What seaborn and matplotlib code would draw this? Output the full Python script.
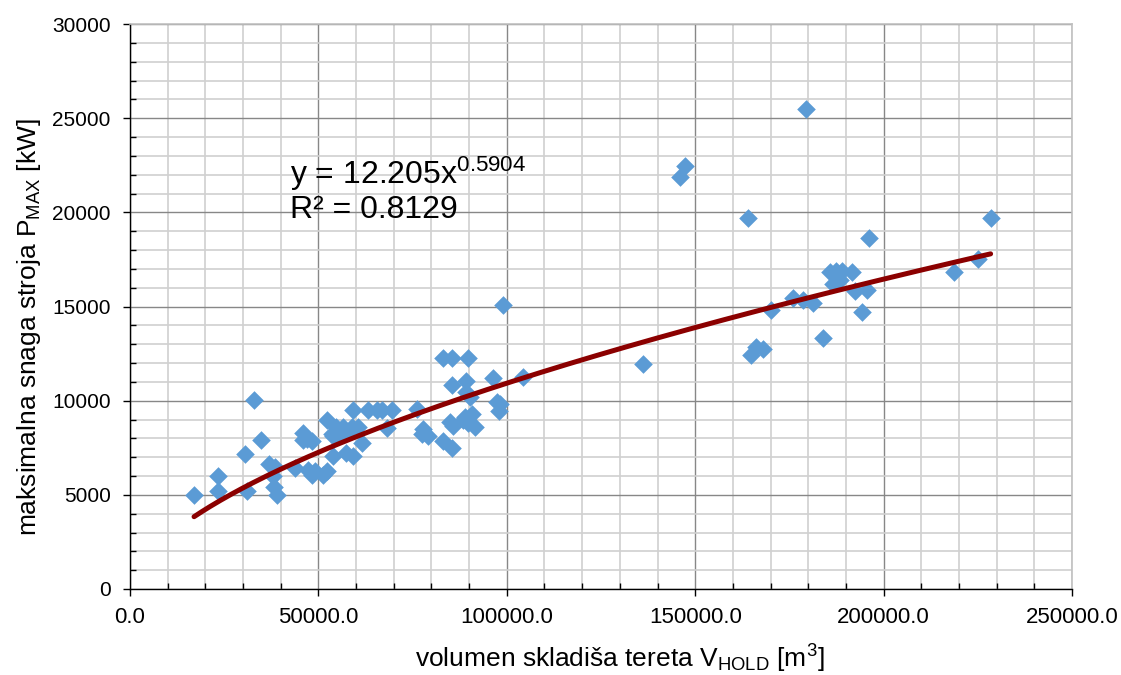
import numpy as np
import pandas as pd
import matplotlib
matplotlib.use("Agg")
import matplotlib.pyplot as plt
from matplotlib.ticker import MultipleLocator, FuncFormatter
import seaborn as sns

# ---- data ----
volume = [
    17000, 23300, 23300, 30500, 31000, 32900, 34800, 36900, 38500, 38000,
    38200, 39000, 43800, 45800, 46000, 46900, 48200, 47300, 48200, 49100,
    51300, 52200, 52200, 53800, 53500, 53900, 55300, 54800, 56600, 57900,
    57300, 59300, 59300, 58800, 60600, 61500, 63250, 65500, 66800, 69500,
    68100, 76100, 77800, 77400, 79200, 83200, 85400, 89800, 85400, 83200,
    85400, 84900, 85800, 89300, 89300, 90200, 88900, 90700, 89800, 91600,
    88500, 96400, 97300, 98200, 97800, 98900, 104400,
    136200, 146000, 147300, 164100, 164700, 166100, 168100, 170000, 176000,
    178700, 181300, 179400, 183800, 185800, 187500, 188900, 191500, 186600,
    187600, 188400, 192400, 195500, 194400, 196200, 218700, 225000, 228400,
]
power = [
    5000, 6000, 5200, 7150, 5200, 10050, 7900, 6650, 6500, 6000,
    5400, 5000, 6450, 8300, 7900, 7950, 7850, 6300, 6050, 6250,
    6050, 6250, 8950, 7050, 8250, 8100, 8100, 8600, 8600, 8350,
    7200, 7050, 9500, 8600, 8600, 7750, 9500, 9500, 9500, 9500,
    8550, 9550, 8500, 8250, 8100, 12250, 12250, 12250, 10850, 7850,
    7500, 8850, 8650, 11050, 10450, 10200, 9150, 9300, 8800, 8600,
    9000, 11200, 9950, 9800, 9450, 15100, 11250,
    11950, 21850, 22450, 19700, 12450, 12850, 12750, 14800, 15450,
    15350, 15200, 25500, 13350, 16850, 16900, 16900, 16850, 16200,
    16500, 16400, 15800, 15900, 14700, 18650, 16850, 17500, 19700,
]
fit_a = 12.205
fit_b = 0.5904
eq_label = "y = 12.205x$^{\\mathregular{0.5904}}$"
r2_label = "R² = 0.8129"

x_label = "volumen skladiša tereta V$_{\\mathregular{HOLD}}$ [m$^{\\mathregular{3}}$]"
y_label = "maksimalna snaga stroja P$_{\\mathregular{MAX}}$ [kW]"

df = pd.DataFrame({"V": volume, "P": power})
xs = np.linspace(min(volume), max(volume), 300)
fit_df = pd.DataFrame({"V": xs, "P": fit_a * xs ** fit_b})

sns.set_style("white")
plt.rcParams["font.family"] = ["Liberation Sans", "DejaVu Sans"]
plt.rcParams["mathtext.fontset"] = "custom"
plt.rcParams["mathtext.rm"] = "Liberation Sans"
plt.rcParams["mathtext.it"] = "Liberation Sans"
plt.rcParams["text.color"] = "black"
plt.rcParams["axes.labelcolor"] = "black"
plt.rcParams["xtick.color"] = "black"
plt.rcParams["ytick.color"] = "black"

fig = plt.figure(figsize=(11.21, 6.75), dpi=100)
ax = fig.add_axes([130 / 1121, 1 - 589 / 675, (1072 - 130) / 1121, (589 - 24) / 675])

ax.set_xlim(0, 250000)
ax.set_ylim(0, 30000)
ax.xaxis.set_major_locator(MultipleLocator(50000))
ax.xaxis.set_minor_locator(MultipleLocator(10000))
ax.yaxis.set_major_locator(MultipleLocator(5000))
ax.yaxis.set_minor_locator(MultipleLocator(1000))
ax.grid(which="minor", color="#d0d0d0", linewidth=1.2, zorder=0)
ax.grid(which="major", color="#878787", linewidth=1.0, zorder=0)
ax.set_axisbelow(True)

sns.scatterplot(data=df, x="V", y="P", ax=ax, marker="D", s=90,
                color="#5b9bd5", linewidth=0, zorder=3)
sns.lineplot(data=fit_df, x="V", y="P", ax=ax, color="#8b0000",
             linewidth=3.6, zorder=4, solid_capstyle="round")

ax.text((290 - 130) / 942, (589 - 184) / 565, eq_label, transform=ax.transAxes,
        fontsize=23, va="baseline", ha="left", color="black")
ax.text((290 - 130) / 942, (589 - 218) / 565, r2_label, transform=ax.transAxes,
        fontsize=23, va="baseline", ha="left", color="black")

ax.xaxis.set_major_formatter(FuncFormatter(lambda v, p: f"{v:.1f}"))
ax.yaxis.set_major_formatter(FuncFormatter(lambda v, p: f"{v:.0f}"))
ax.tick_params(axis="both", which="major", length=5,
               direction="out", color="black", labelcolor="black", width=1,
               bottom=True, left=True)
ax.tick_params(axis="y", which="major", labelsize=15, pad=9)
ax.tick_params(axis="x", which="major", labelsize=16, pad=8)
ax.tick_params(axis="both", which="minor", length=4, direction="in",
               color="black", width=1, bottom=True, left=True)

for s in ["left", "bottom"]:
    ax.spines[s].set_color("black")
    ax.spines[s].set_linewidth(1.0)
for s in ["top", "right"]:
    ax.spines[s].set_color("#c0c0c0")
    ax.spines[s].set_linewidth(1.2)

ax.set_xlabel(x_label, fontsize=19, color="black")
ax.set_ylabel(y_label, fontsize=19, color="black")
ax.xaxis.set_label_coords((619.5 - 130) / 942, (589 - 643) / 565)
ax.yaxis.set_label_coords((43 - 130) / 942, (589 - 327) / 565)

fig.savefig("out.png", dpi=100)
